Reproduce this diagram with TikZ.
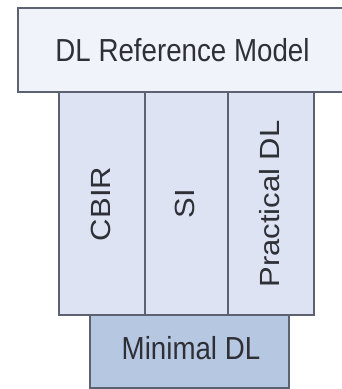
\documentclass[tikz,border=0pt]{standalone}
\usepackage{fontspec}
\setmainfont{Liberation Sans}
\begin{document}
\begin{tikzpicture}[x=1pt,y=-1pt,
  layerbox/.style={draw=edgegray,line width=1.4pt},
  lbl/.style={text=textgray,inner sep=0pt,font=\fontsize{27.7}{30}\selectfont}]
\definecolor{edgegray}{HTML}{5C6270}
\definecolor{textgray}{HTML}{2E3036}
\definecolor{topfill}{HTML}{F0F3FA}
\definecolor{colfill}{HTML}{DDE3F3}
\definecolor{basefill}{HTML}{B6C7E2}
\useasboundingbox (0,0) rectangle (342,389);
\clip (0,0) rectangle (342,389);
% top layer
\draw[layerbox,fill=topfill] (18,8) rectangle (350,92);
\node[lbl] (ref) at (182.5,50) {\scalebox{1}[1.15]{DL Reference Model}};
% three vertical components
\draw[layerbox,fill=colfill] (59,92) rectangle (145,315);
\draw[layerbox,fill=colfill] (145,92) rectangle (228,315);
\draw[layerbox,fill=colfill] (228,92) rectangle (314,315);
\node[lbl] (cbir) at (101,204) {\rotatebox{90}{\scalebox{1.12}[1]{CBIR}}};
\node[lbl] (si) at (185,204) {\rotatebox{90}{\scalebox{1.12}[1]{SI}}};
\node[lbl] (pdl) at (270,204) {\rotatebox{90}{\scalebox{1.12}[1]{Practical DL}}};
% base layer
\draw[layerbox,fill=basefill] (90,315) rectangle (289,388);
\node[lbl] (min) at (191,348) {\scalebox{1}[1.15]{Minimal DL}};
\end{tikzpicture}
\end{document}
